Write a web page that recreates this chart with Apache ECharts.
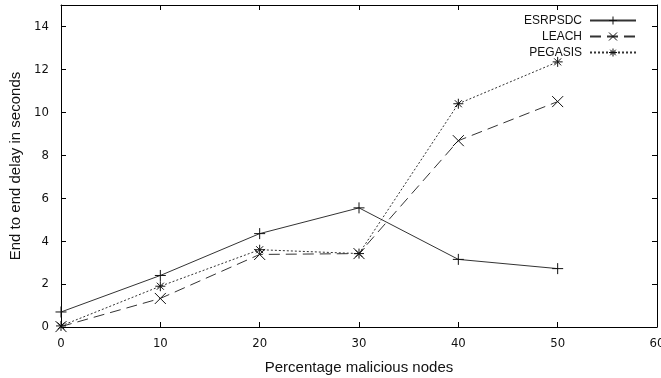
<!DOCTYPE html>
<html>
<head>
<meta charset="utf-8">
<script src="https://cdn.jsdelivr.net/npm/echarts@6/dist/echarts.min.js"></script>
<style>
  html, body { margin: 0; padding: 0; background: #fff; }
  #chart { width: 661px; height: 378px; }
</style>
</head>
<body>
<div id="chart"></div>
<script>
// 数据
const xValues = [0, 10, 20, 30, 40, 50]
const esrpsdc = [0.7, 2.4, 4.35, 5.55, 3.15, 2.72]
const leach = [0.02, 1.33, 3.38, 3.42, 8.68, 10.5]
const pegasis = [0.05, 1.9, 3.6, 3.42, 10.4, 12.35]
const seriesNames = ['ESRPSDC', 'LEACH', 'PEGASIS']

// 标记形状
const plusSym = 'path://M0,5L10,5M5,0L5,10'
const crossSym = 'path://M0,0L10,10M10,0L0,10'
const starSym = 'path://M0,5L10,5M5,0L5,10M1.5,1.5L8.5,8.5M8.5,1.5L1.5,8.5'

const tickFont = '"DejaVu Sans Condensed", "Liberation Sans", sans-serif'
const titleFont = '"Liberation Sans", Arial, sans-serif'

const pairs = arr => xValues.map((x, i) => [x, arr[i]])

const mkSeries = (name, data, symbol, size, dash) => ({
  name,
  type: 'line',
  data: pairs(data),
  symbol,
  symbolSize: size,
  showSymbol: true,
  lineStyle: { color: '#333', width: 1, type: dash },
  itemStyle: { color: 'none', borderColor: '#111', borderWidth: 1 },
  emphasis: { disabled: true },
  animation: false
})

const chart = echarts.init(document.getElementById('chart'))

const axisLine = { show: true, onZero: false, lineStyle: { color: '#000', width: 1 } }
const axisTick = { show: true, inside: true, length: 5, lineStyle: { color: '#000' } }

chart.setOption({
  backgroundColor: '#fff',
  animation: false,
  grid: { left: 61, right: 4, top: 5, bottom: 51, containLabel: false, outerBoundsMode: 'none' },
  legend: {
    orient: 'vertical',
    right: 19,
    top: 9,
    align: 'right',
    itemGap: 3,
    itemWidth: 46,
    itemHeight: 10,
    data: seriesNames,
    itemStyle: { borderWidth: 1 },
    textStyle: { fontFamily: titleFont, fontSize: 12, color: '#111', padding: [0, 3, 0, 0] }
  },
  xAxis: [
    {
      type: 'value',
      min: 0,
      max: 60,
      interval: 10,
      name: 'Percentage malicious nodes',
      nameLocation: 'middle',
      nameGap: 33,
      nameTextStyle: { fontFamily: titleFont, fontSize: 15, color: '#111' },
      axisLine,
      axisTick,
      axisLabel: { fontFamily: tickFont, fontSize: 13, color: '#111', margin: 10 },
      splitLine: { show: false }
    },
    {
      type: 'value',
      position: 'top',
      min: 0,
      max: 60,
      interval: 10,
      axisLine,
      axisTick,
      axisLabel: { show: false },
      splitLine: { show: false }
    }
  ],
  yAxis: [
    {
      type: 'value',
      min: 0,
      max: 15,
      interval: 2,
      name: 'End to end delay in seconds',
      nameLocation: 'middle',
      nameGap: 38,
      nameTextStyle: { fontFamily: titleFont, fontSize: 15, color: '#111' },
      axisLine,
      axisTick,
      axisLabel: { fontFamily: tickFont, fontSize: 13, color: '#111', margin: 12, showMaxLabel: false },
      splitLine: { show: false }
    },
    {
      type: 'value',
      position: 'right',
      min: 0,
      max: 15,
      interval: 2,
      axisLine,
      axisTick,
      axisLabel: { show: false },
      splitLine: { show: false }
    }
  ],
  series: [
    mkSeries('ESRPSDC', esrpsdc, plusSym, 11, 'solid'),
    mkSeries('LEACH', leach, crossSym, 11, [11, 6]),
    mkSeries('PEGASIS', pegasis, starSym, 10, [2, 2])
  ]
})
</script>
</body>
</html>
